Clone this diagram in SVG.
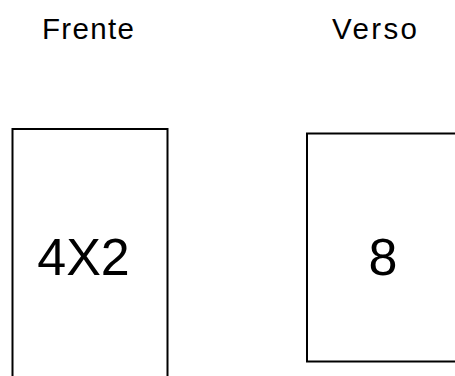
<svg xmlns="http://www.w3.org/2000/svg" width="455" height="376" viewBox="0 0 455 376">
<style>
.box{fill:#fff;stroke:#000;stroke-width:2}
.t{font-family:"Liberation Sans",Arial,sans-serif;fill:#000}
</style>
<rect width="455" height="376" fill="#fff"/>
<g id="label-frente"><text class="t" x="42" y="39" font-size="29.5" textLength="92" lengthAdjust="spacing">Frente</text></g>
<g id="label-verso"><text class="t" x="332" y="39" font-size="29.5" textLength="85" lengthAdjust="spacing">Verso</text></g>
<g id="node-frente">
<rect class="box" x="12.5" y="129" width="155" height="260"/>
<text class="t" x="83.5" y="275" font-size="52" text-anchor="middle">4X2</text>
</g>
<g id="node-verso">
<rect class="box" x="307" y="133.5" width="160" height="228"/>
<text class="t" x="383" y="275" font-size="52" text-anchor="middle">8</text>
</g>
<g id="connectors"></g>
</svg>
